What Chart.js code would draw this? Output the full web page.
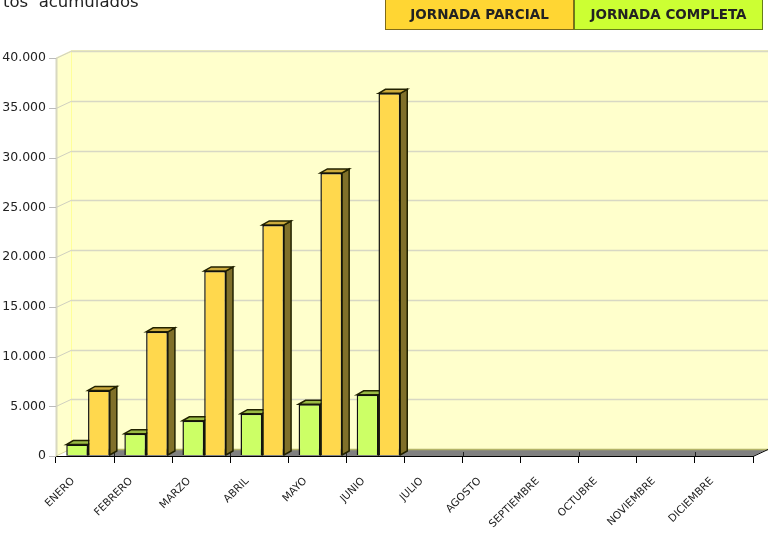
<!DOCTYPE html>
<html>
<head>
<meta charset="utf-8">
<script src="https://cdn.jsdelivr.net/npm/chart.js@4"></script>
<style>
  html, body { margin: 0; padding: 0; background: #fff; overflow: hidden; }
  canvas { display: block; }
</style>
</head>
<body>
<canvas id="myChart" width="768" height="534"></canvas>
<script>
var meses = ['ENERO', 'FEBRERO', 'MARZO', 'ABRIL', 'MAYO', 'JUNIO', 'JULIO', 'AGOSTO', 'SEPTIEMBRE', 'OCTUBRE', 'NOVIEMBRE', 'DICIEMBRE'];
var jornadaCompleta = [1050, 2140, 3440, 4150, 5100, 6050, 0, 0, 0, 0, 0, 0];
var jornadaParcial = [6490, 12380, 18500, 23120, 28350, 36350, 0, 0, 0, 0, 0, 0];
var titulo = 'tos  acumulados';

var DX = 15, DY = 7;       // wall depth
var BAR_DX = 7, BAR_DY = 4; // bar depth
var SHIFT_X = 3, SHIFT_Y = -1;

function poly(ctx, pts, fill, stroke, w) {
  ctx.beginPath();
  ctx.moveTo(pts[0][0], pts[0][1]);
  for (var i = 1; i < pts.length; i++) ctx.lineTo(pts[i][0], pts[i][1]);
  ctx.closePath();
  if (fill) { ctx.fillStyle = fill; ctx.fill(); }
  if (stroke) { ctx.strokeStyle = stroke; ctx.lineWidth = w || 1; ctx.stroke(); }
}

function line(ctx, x1, y1, x2, y2, color, w) {
  ctx.beginPath();
  ctx.moveTo(x1, y1);
  ctx.lineTo(x2, y2);
  ctx.strokeStyle = color;
  ctx.lineWidth = w || 1;
  ctx.stroke();
}

var walls = {
  id: 'walls',
  beforeDatasetsDraw: function (chart) {
    var ctx = chart.ctx, a = chart.chartArea, y = chart.scales.y, x = chart.scales.x;
    ctx.save();
    // back and left wall
    poly(ctx, [[a.left + DX, a.top - DY], [a.right + DX, a.top - DY], [a.right + DX, a.bottom - DY], [a.left + DX, a.bottom - DY]], '#FFFFCC');
    poly(ctx, [[a.left, a.top], [a.left + DX, a.top - DY], [a.left + DX, a.bottom - DY], [a.left, a.bottom]], '#FFFFCC');
    line(ctx, a.left + DX, a.top - DY, a.right + DX, a.top - DY, '#EEEEBB', 2);
    line(ctx, a.left, a.top, a.left + DX, a.top - DY, '#EEEEBB', 1);
    line(ctx, a.left + DX + 0.5, a.top - DY, a.left + DX + 0.5, a.bottom - DY, '#FFFF99', 1);
    line(ctx, a.left + 0.5, a.top, a.left + 0.5, a.bottom, '#D8D8C0', 2);
    // grid on the back wall
    y.ticks.forEach(function (t) {
      if (t.value === 0) return;
      var py = Math.round(y.getPixelForValue(t.value));
      line(ctx, a.left + DX, py - DY + 0.5, a.right + DX, py - DY + 0.5, '#D8D8C4', 1.5);
      line(ctx, a.left, py + 0.5, a.left + DX, py - DY + 0.5, '#D0D0C0', 1);
      line(ctx, a.left - 7, py + 0.5, a.left, py + 0.5, '#BBBBBB', 1);
    });
    line(ctx, a.left - 7, a.bottom + 0.5, a.left, a.bottom + 0.5, '#BBBBBB', 1);
    // floor
    line(ctx, a.left, a.bottom, a.left + DX, a.bottom - DY, '#D8D8A0', 1);
    poly(ctx, [[a.left + 10, a.bottom], [a.left + 16, a.bottom - DY], [a.right + DX, a.bottom - DY], [a.right, a.bottom]], '#808080');
    line(ctx, a.left + 16, a.bottom - DY + 0.5, a.right + DX, a.bottom - DY + 0.5, '#B4B468', 1.5);
    // every other tick runs up into the floor
    var cat = (a.right - a.left) / meses.length;
    meses.forEach(function (m, i) {
      if (i % 2 === 0) {
        var tx = Math.round(x.getPixelForValue(i) + cat / 2) + 0.5;
        line(ctx, tx, a.bottom - 4, tx, a.bottom, '#222', 1);
      }
    });
    ctx.restore();

    // bar side and top faces, all behind the fronts
    ctx.save();
    ctx.translate(SHIFT_X, SHIFT_Y);
    [0, 1].forEach(function (idx) {
      var sideCol = idx === 0 ? '#6E8A2E' : '#80702A';
      var topCol = idx === 0 ? '#99BB44' : '#CCAA3C';
      chart.getDatasetMeta(idx).data.forEach(function (bar) {
        if (!bar.height) return;
        var l = bar.x - bar.width / 2, r = bar.x + bar.width / 2, t = bar.y, b = bar.base;
        poly(ctx, [[r, t], [r + BAR_DX, t - BAR_DY], [r + BAR_DX, b - BAR_DY], [r, b]], sideCol, '#222200', 1.5);
        poly(ctx, [[l, t], [l + BAR_DX, t - BAR_DY], [r + BAR_DX, t - BAR_DY], [r, t]], topCol, '#222200', 1.5);
      });
    });
  },
  afterDatasetsDraw: function (chart) {
    chart.ctx.restore();
  },
  afterDraw: function (chart) {
    var ctx = chart.ctx, a = chart.chartArea;
    ctx.save();
    line(ctx, a.right, a.bottom + 0.5, a.right + DX, a.bottom - DY + 0.5, '#000', 1);
    // title, cut by the top edge as in the page
    ctx.fillStyle = '#222';
    ctx.font = '16.5px "DejaVu Sans"';
    ctx.textAlign = 'left';
    ctx.textBaseline = 'alphabetic';
    ctx.fillText(titulo, 3, 7);
    // legend
    var items = [
      { x: 385, w: 189, ds: chart.data.datasets[1], fill: '#FFD633', edge: '#806B19' },
      { x: 574, w: 189, ds: chart.data.datasets[0], fill: '#CCFF33', edge: '#667F19' }
    ];
    ctx.font = 'bold 13.5px "DejaVu Sans"';
    ctx.textAlign = 'center';
    ctx.textBaseline = 'middle';
    items.forEach(function (it) {
      ctx.fillStyle = it.fill;
      ctx.fillRect(it.x, -2, it.w, 32);
      ctx.strokeStyle = it.edge;
      ctx.lineWidth = 1;
      ctx.strokeRect(it.x + 0.5, -2, it.w - 1, 31.5);
      ctx.fillStyle = '#222';
      ctx.fillText(it.ds.label, it.x + it.w / 2, 15);
    });
    ctx.restore();
  }
};

new Chart(document.getElementById('myChart'), {
  type: 'bar',
  plugins: [walls],
  data: {
    labels: meses,
    datasets: [
      { label: 'JORNADA COMPLETA', data: jornadaCompleta, backgroundColor: '#CCFF66', borderColor: '#111', borderWidth: 1.5, categoryPercentage: 0.75, barPercentage: 1 },
      { label: 'JORNADA PARCIAL', data: jornadaParcial, backgroundColor: '#FFD84D', borderColor: '#111', borderWidth: 1.5, categoryPercentage: 0.75, barPercentage: 1 }
    ]
  },
  options: {
    responsive: false,
    animation: false,
    layout: { padding: { top: 58, right: 15, left: 0, bottom: 0 } },
    plugins: { legend: { display: false }, tooltip: { enabled: false } },
    scales: {
      x: {
        afterFit: function (s) { s.height = 78; },
        grid: { display: true, drawOnChartArea: false, drawTicks: true, tickLength: 7, color: '#000' },
        border: { display: true, color: '#000', width: 1 },
        ticks: {
          minRotation: 45, maxRotation: 45, autoSkip: false, padding: 12, labelOffset: -12,
          color: '#222', font: { family: 'DejaVu Sans', size: 10.5 }
        }
      },
      y: {
        min: 0, max: 40000,
        afterFit: function (s) { s.width = 56; },
        grid: { display: false },
        border: { display: false },
        ticks: {
          stepSize: 5000, padding: 2, color: '#222',
          font: { family: 'DejaVu Sans', size: 12.5 },
          callback: function (v) { return String(v).replace(/\B(?=(\d{3})+$)/g, '.'); }
        }
      }
    }
  }
});
</script>
</body>
</html>
